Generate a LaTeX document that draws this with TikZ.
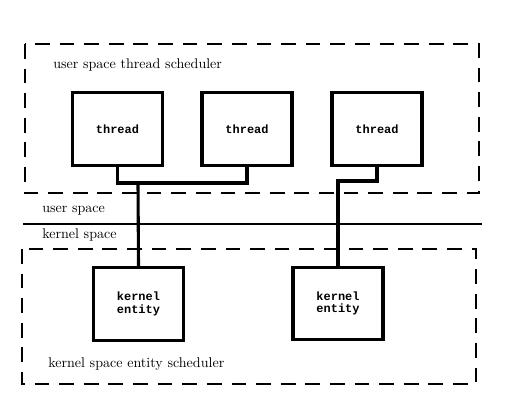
\documentclass[tikz,border=0pt]{standalone}
\usepackage{fontspec}
\newfontfamily\boxfont{Liberation Mono}
\begin{document}
\begin{tikzpicture}[x=0.025cm, y=-0.025cm,
    entbox/.style={draw, line width=2.2pt, minimum width=2.25cm, minimum height=1.82cm,
      inner sep=0pt, align=center, font=\boxfont\bfseries\fontsize{8.5}{9}\selectfont},
    zone/.style={draw, dash pattern=on 10.5pt off 7pt, line width=1pt},
    lbl/.style={anchor=west, inner sep=0pt, font=\fontsize{10}{11}\selectfont}]
    \useasboundingbox (0,0) rectangle (512,411);
    % scheduler areas
    \draw [zone] (25,44) rectangle (479,193);
    \draw [zone] (22,249) rectangle (476,384);
    \draw [line width=1.6pt] (23,224) -- (482,224);
    \node [lbl] (uts) at (53,65) {user space thread scheduler};
    \node [lbl] (us) at (42,211) {user space};
    \node [lbl] (ks) at (42,235) {kernel space};
    \node [lbl] (kes) at (48,364) {kernel space entity scheduler};
    % threads
    \node [entbox] (t1) at (117.5,129) {thread};
    \node [entbox] (t2) at (247,129) {thread};
    \node [entbox] (t3) at (377,129) {thread};
    % kernel entities
    \node [entbox] (k1) at (138.5,304) {kernel\\entity};
    \node [entbox] (k2) at (338,303.5) {kernel\\entity};
    % connections
    \coordinate (j1) at (138,183);
    \coordinate (j2) at (338,181);
    \draw [line width=2.2pt] (t1.south) |- (j1) -| (t2.south);
    \draw [line width=2.2pt] (j1) -- (k1.north);
    \draw [line width=2.2pt] (t3.south) |- (j2) -- (k2.north);
\end{tikzpicture}
\end{document}
